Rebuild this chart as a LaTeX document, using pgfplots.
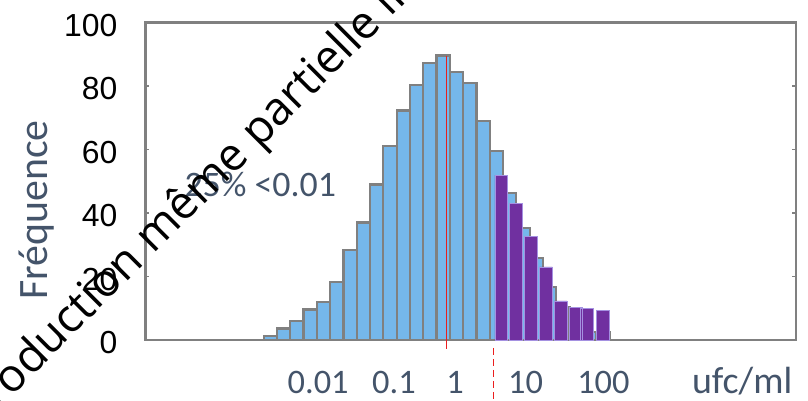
\documentclass[border=0pt]{standalone}
\usepackage{pgfplots}
\pgfplotsset{compat=1.18}
\usepackage{pgfplotstable}
\usepackage{fontspec}
\setmainfont{Carlito}
\newfontfamily\arialfont{Liberation Sans}
\newfontfamily\wmfont{Open Sans}

\definecolor{barblue}{RGB}{117,183,235}
\definecolor{bargrey}{RGB}{128,128,128}
\definecolor{barpurple}{RGB}{112,48,160}
\definecolor{purpleedge}{RGB}{165,145,225}
\definecolor{slatetext}{RGB}{68,84,106}
\definecolor{markred}{RGB}{235,30,30}

% blue histogram, one bin per unit
\pgfplotstableread{
x y
1 1.3
2 3.6
3 6.0
4 9.6
5 12.0
6 18.3
7 28.3
8 37.0
9 49.0
10 61.0
11 72.3
12 80.4
13 87.2
14 89.6
15 84.3
16 81.0
17 68.9
18 59.5
19 46.3
20 35.3
21 25.9
22 16.6
23 10.5
24 7.0
25 2.6
26 2.6
}\bluebins

% purple bars, shifted against the blue bins
\pgfplotstableread{
x y
18.37 51.9
19.49 43.0
20.58 32.5
21.74 23.0
22.83 12.3
23.99 10.2
24.80 10.0
26.00 9.4
}\purplebins

\begin{document}
\begin{tikzpicture}
\useasboundingbox (-145.5bp,-61bp) rectangle (662.5bp,340bp);
\begin{axis}[
    at={(0,0)}, anchor=south west,
    scale only axis,
    width=650.5bp, height=317.5bp,
    xmin=-8.38, xmax=40.53,
    ymin=0, ymax=100,
    clip=false,
    axis line style={bargrey, line width=2.7bp},
    tick align=inside,
    major tick length=4bp,
    ytick={0,20,40,60,80,100},
    ytick pos=both,
    y tick style={bargrey, line width=1.5bp},
    yticklabel style={font=\arialfont\fontsize{32}{32}\selectfont, black,
        inner sep=0pt, xshift=-28bp, yshift=-3bp},
    /pgf/number format/assume math mode=true,
    xtick={4.6,10.3,14.9,20.2,26.05},
    xticklabels={0.01,0.1,1,10,100},
    x tick style={draw=none},
    xticklabel style={font=\fontsize{34.5}{34.5}\selectfont, text=slatetext,
        anchor=base, inner sep=0pt, yshift=-53bp},
]
\addplot[ybar, bar width=1, bar shift=0pt, fill=barblue, draw=bargrey,
    line width=2.2bp] table[x=x, y=y] {\bluebins};
\addplot[ybar, bar width=0.95, bar shift=0pt, fill=barpurple, draw=purpleedge,
    line width=0.8bp] table[x=x, y=y] {\purplebins};

% median and threshold
\addplot[color=markred, mark=none, line width=0.8bp]
    coordinates {(14.24,89.5) (14.24,-2.8)};
\addplot[color=markred, mark=none, line width=1.6bp,
    dash pattern=on 7bp off 4bp]
    coordinates {(17.8,-2.5) (17.8,-19.5)};

\node[font=\fontsize{36}{36}\selectfont, text=slatetext, inner sep=0pt]
    at (axis cs:0.25,49.1) {25\% <0.01};
\node[font=\fontsize{38}{38}\selectfont, text=slatetext, anchor=base west,
    inner sep=0pt] at (axis cs:32.7,-16.7) {ufc/ml};
\end{axis}

\node[rotate=90, anchor=base, font=\fontsize{42}{42}\selectfont,
    text=slatetext, inner sep=0pt] at (-98bp,130bp) {Fréquence};

% watermark
\node[overlay, rotate=45, anchor=base west, inner sep=0pt,
    font=\wmfont\fontsize{46}{46}\selectfont] at (105bp,182bp)
    {\kern0.26em partielle interdite};
\node[overlay, rotate=45, anchor=base east, inner sep=0pt,
    font=\wmfont\fontsize{46}{46}\selectfont] at (105bp,182bp)
    {Reproduction même};
\end{tikzpicture}
\end{document}
